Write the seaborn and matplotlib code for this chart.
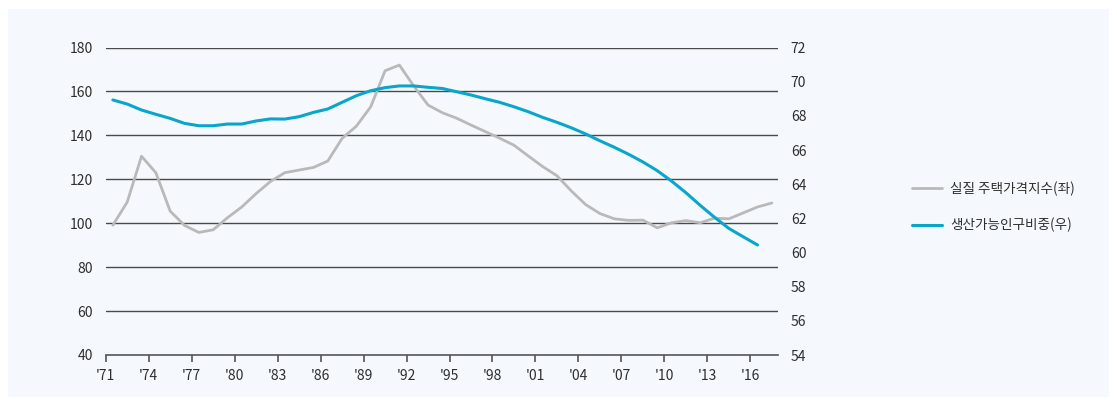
import matplotlib
matplotlib.use("Agg")
import matplotlib.pyplot as plt
from matplotlib.lines import Line2D
from matplotlib.patches import Rectangle
import numpy as np
import pandas as pd
import seaborn as sns

# Annual series, 1971-2017
years = list(range(1971, 2018))
house_price = [99.1, 109.6, 130.5, 123.0, 105.5, 99.0, 95.8, 97.0, 102.5, 107.4,
               113.5, 119.0, 123.0, 124.2, 125.4, 128.3, 138.6, 144.2, 153.0, 169.4,
               172.0, 162.5, 153.8, 150.3, 147.8, 144.7, 141.7, 138.7, 135.5, 130.6,
               125.8, 121.6, 114.7, 108.5, 104.4, 102.0, 101.3, 101.4, 97.9, 100.2,
               101.2, 100.2, 102.3, 102.0, 104.7, 107.4, 109.2]
working_age_years = list(range(1971, 2017))
working_age_share = [68.93, 68.69, 68.34, 68.09, 67.85, 67.56, 67.42, 67.42, 67.52, 67.52,
                     67.70, 67.82, 67.81, 67.95, 68.20, 68.40, 68.79, 69.18, 69.47, 69.65,
                     69.75, 69.75, 69.67, 69.60, 69.41, 69.22, 69.00, 68.79, 68.53, 68.24,
                     67.91, 67.62, 67.30, 66.94, 66.54, 66.16, 65.75, 65.30, 64.79, 64.18,
                     63.50, 62.76, 62.06, 61.41, 60.92, 60.44]

tick_years = list(range(1971, 2017, 3))
tick_labels = ["'" + str(y)[2:] for y in tick_years]
left_ticks = list(range(40, 181, 20))
right_ticks = list(range(54, 73, 2))

series_names = ["실질 주택가격지수(좌)", "생산가능인구비중(우)"]
gray = "#b9b9b9"
blue = "#0aa6c9"
bg = "#f5f9fd"

sns.set_theme(style="white")
plt.rcParams["font.family"] = ["Noto Sans CJK KR", "DejaVu Sans"]

df_price = pd.DataFrame({"year": years, "value": house_price})
df_pop = pd.DataFrame({"year": working_age_years, "value": working_age_share})

fig = plt.figure(figsize=(11.17, 4.04), dpi=100)
fig.patch.set_facecolor("white")
fig.patches.append(Rectangle((8 / 1117, 1 - 397 / 404), (1109 - 8) / 1117, (397 - 9) / 404,
                             transform=fig.transFigure, facecolor=bg, edgecolor="none",
                             zorder=-10))

ax = fig.add_axes([105.7 / 1117, 1 - 355 / 404, (778.3 - 105.7) / 1117, (355 - 47.5) / 404])
ax.set_facecolor("none")
ax2 = ax.twinx()

# Horizontal grid from the left scale
for v in left_ticks[1:]:
    ax.axhline(v, color="#4a4a4a", lw=1.0, zorder=1)

sns.lineplot(data=df_price, x="year", y="value", ax=ax, color=gray, lw=2.0, zorder=3)
sns.lineplot(data=df_pop, x="year", y="value", ax=ax2, color=blue, lw=2.2, zorder=3)

# Year ticks sit at the start of each year, points at mid-year positions
ax.set_xlim(1970.5, 2017.45)
ax.set_xticks([y - 0.5 for y in tick_years])
ax.set_xticklabels(tick_labels)
ax.set_ylim(40, 180)
ax.set_yticks(left_ticks)
ax2.set_ylim(54, 72)
ax2.set_yticks(right_ticks)

for a in (ax, ax2):
    a.set_xlabel("")
    a.set_ylabel("")
    for s in ("top", "left", "right"):
        a.spines[s].set_visible(False)
ax2.spines["bottom"].set_visible(False)
ax.spines["bottom"].set_color("#555555")
ax.spines["bottom"].set_linewidth(1.2)

ax.tick_params(axis="x", which="major", bottom=True, direction="out", length=5,
               width=1.2, color="#555555", labelsize=10, labelcolor="#2e2e2e", pad=5)
ax.tick_params(axis="y", left=False, length=0, labelsize=10, labelcolor="#2e2e2e", pad=9)
ax2.tick_params(axis="y", right=False, length=0, labelsize=10, labelcolor="#2e2e2e", pad=9)

handles = [Line2D([], [], color=gray, lw=2.0), Line2D([], [], color=blue, lw=2.2)]
leg = fig.legend(handles, series_names, loc="center left",
                 bbox_to_anchor=(900 / 1117, 1 - 207 / 404), frameon=False,
                 handlelength=2.15, handletextpad=0.65, labelspacing=1.6,
                 prop={"size": 9.8})
for t in leg.get_texts():
    t.set_color("#2e2e2e")

fig.savefig("out.png", dpi=100, facecolor=fig.get_facecolor())
